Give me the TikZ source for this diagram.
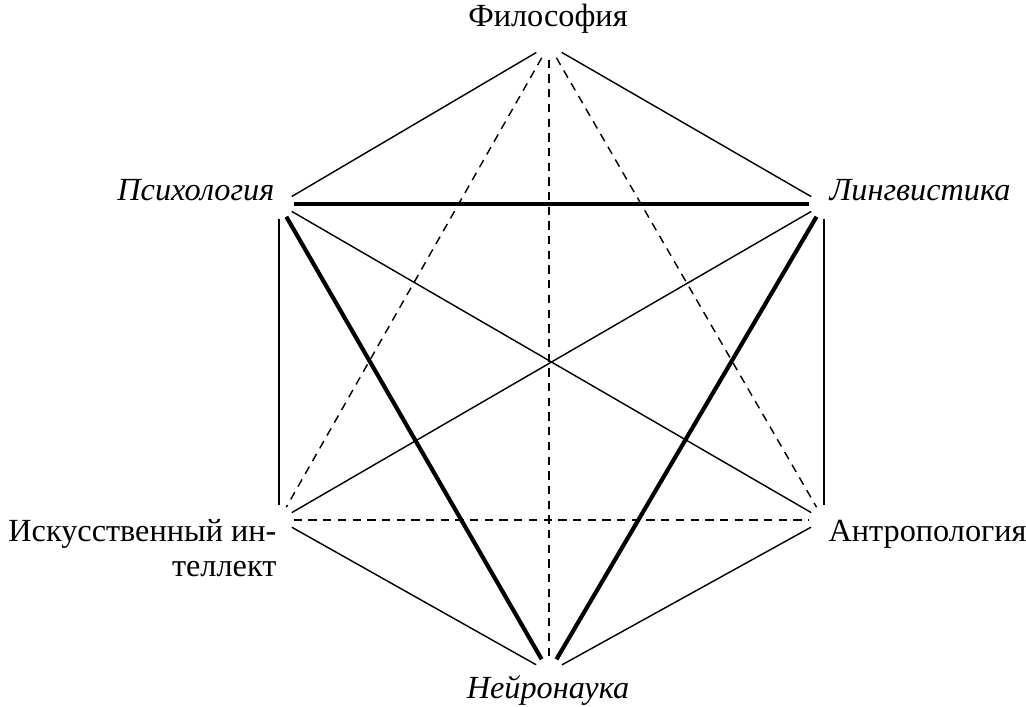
\documentclass[tikz,border=0pt]{standalone}
\usepackage{fontspec}
\setmainfont{Liberation Serif}
\begin{document}
\begin{tikzpicture}[x=0.011cm, y=-0.011cm,
    every node/.style={font=\fontsize{10.1}{10.9}\selectfont},
    vertex/.style={circle, minimum size=0.31cm, inner sep=0pt},
    disc/.style={inner sep=0pt},
    thin line/.style={line width=0.45pt},
    thick line/.style={line width=1.3pt},
    dash line/.style={line width=0.45pt, dash pattern=on 2.6pt off 2pt}]
    \useasboundingbox (0,0) rectangle (1026,706);
    % vertices of the hexagon
    \node[vertex] (phil)  at (549,45)  {};
    \node[vertex] (psy)   at (279,204) {};
    \node[vertex] (ling)  at (824,204) {};
    \node[vertex] (ai)    at (279,520) {};
    \node[vertex] (anth)  at (824,520) {};
    \node[vertex] (neuro) at (549,672) {};
    % labels
    \node[disc, anchor=base] (philtext) at (548,26) {Философия};
    \node[disc, anchor=base east] (psytext) at (275,200) {\itshape Психология};
    \node[disc, anchor=base west] (lingtext) at (829,200) {\itshape Лингвистика};
    \node[disc, anchor=base east, align=right] (aitext) at (277,576) {Искусственный ин-\\теллект};
    \node[disc, anchor=base west] (anthtext) at (828,541) {Антропология};
    \node[disc, anchor=base] (neurotext) at (548,698) {\itshape Нейронаука};
    % edges
    \draw[thin line] (phil) -- (psy);
    \draw[thin line] (phil) -- (ling);
    \draw[thin line] (psy) -- (ai);
    \draw[thin line] (ling) -- (anth);
    \draw[thin line] (ai) -- (neuro);
    \draw[thin line] (anth) -- (neuro);
    \draw[thin line] (psy) -- (anth);
    \draw[thin line] (ling) -- (ai);
    \draw[thick line] (psy) -- (ling);
    \draw[thick line] (psy) -- (neuro);
    \draw[thick line] (ling) -- (neuro);
    \draw[dash line] (phil) -- (ai);
    \draw[dash line] (phil) -- (anth);
    \draw[dash line] (phil) -- (neuro);
    \draw[dash line] (ai) -- (anth);
\end{tikzpicture}
\end{document}
